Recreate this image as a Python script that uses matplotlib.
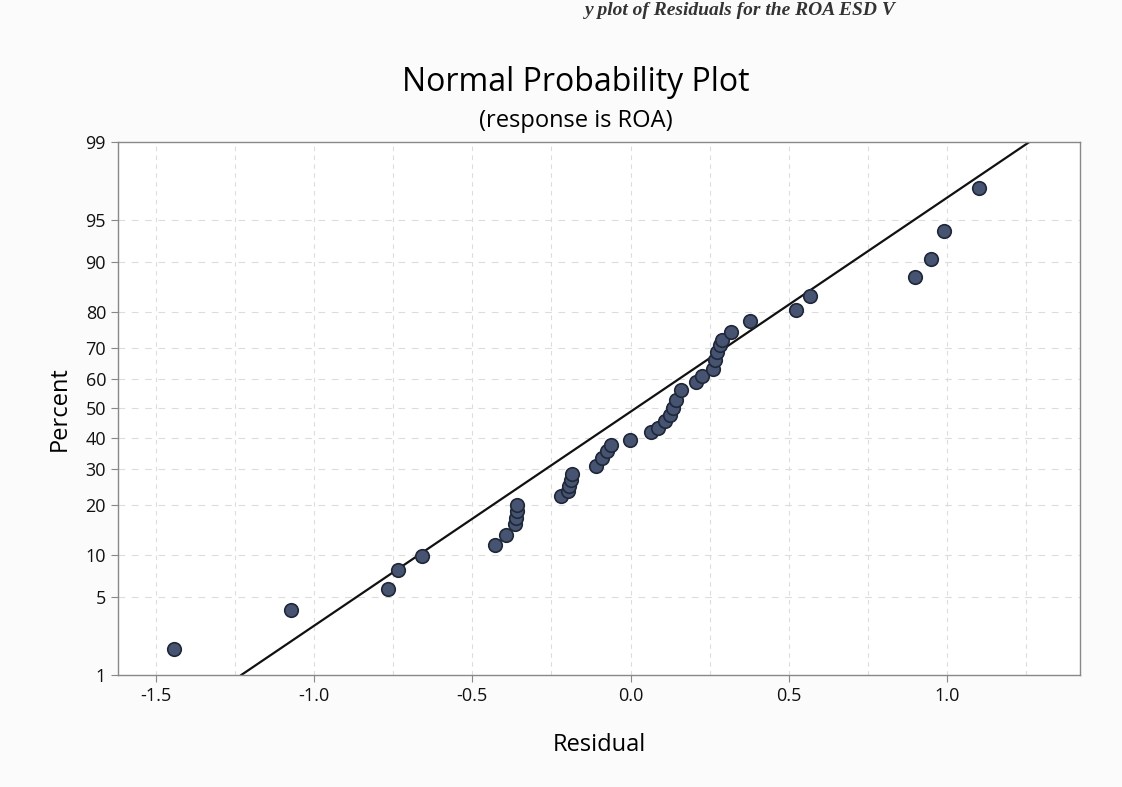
import numpy as np
import matplotlib.pyplot as plt
from statistics import NormalDist

# Residuals (sorted) and their plotted percent
residuals = [-1.443, -1.072, -0.767, -0.736, -0.660, -0.428, -0.393,
             -0.365, -0.362, -0.358, -0.358, -0.220, -0.198, -0.195,
             -0.189, -0.186, -0.110, -0.091, -0.075, -0.063, -0.003,
             0.066, 0.088, 0.110, 0.126, 0.135, 0.145, 0.160, 0.208,
             0.226, 0.261, 0.267, 0.274, 0.283, 0.289, 0.318, 0.377,
             0.522, 0.566, 0.899, 0.950, 0.991, 1.101]
percent = [1.8, 3.9, 5.8, 7.9, 9.9, 11.6, 13.5,
           15.6, 17.0, 18.5, 20.0, 22.3, 23.6, 25.0,
           26.7, 28.4, 30.9, 33.4, 35.6, 37.6, 39.3,
           42.0, 43.4, 45.8, 47.9, 50.3, 53.1, 56.3, 59.0,
           61.1, 63.4, 66.3, 68.8, 71.0, 72.4, 74.8, 77.7,
           80.5, 83.7, 87.5, 90.4, 93.9, 97.3]

# fitted line end points
line_x = [-1.23, 1.26]
line_pct = [1, 99]

y_ticks = [1, 5, 10, 20, 30, 40, 50, 60, 70, 80, 90, 95, 99]
x_ticks = [-1.5, -1.0, -0.5, 0.0, 0.5, 1.0]

nd = NormalDist()
_inv = np.vectorize(lambda v: nd.inv_cdf(v / 100.0), otypes=[float])
_cdf = np.vectorize(lambda v: nd.cdf(v) * 100.0, otypes=[float])


def to_z(p):
    p = np.clip(np.asarray(p, dtype=float), 1e-4, 100 - 1e-4)
    return _inv(p)


def from_z(z):
    return _cdf(np.asarray(z, dtype=float))


plt.rcParams['font.family'] = ['Open Sans', 'DejaVu Sans']

fig = plt.figure(figsize=(11.22, 7.87), dpi=100, facecolor='#fbfbfb')
ax = fig.add_axes([0.105, 0.1423, 0.8576, 0.6773])
ax.set_facecolor('white')

ax.set_yscale('function', functions=(to_z, from_z))
ax.set_ylim(1, 99)
ax.set_xlim(-1.62, 1.42)

# grid
for gx in np.arange(-1.5, 1.5, 0.25):
    ax.axvline(gx, color='#dcdcdc', lw=0.8, ls=(0, (4, 4)), zorder=0)
for gy in y_ticks[1:-1]:
    ax.axhline(gy, color='#dcdcdc', lw=0.8, ls=(0, (6, 6)), zorder=0)

ax.plot(line_x, line_pct, color='#111111', lw=1.6, zorder=2)
ax.scatter(residuals, percent, s=95, color='#465371', edgecolor='#1f2838',
           linewidth=1.2, zorder=3)

ax.set_yticks(y_ticks)
ax.set_yticklabels([str(t) for t in y_ticks])
ax.set_xticks(x_ticks)
ax.set_xticklabels(['-1.5', '-1.0', '-0.5', '0.0', '0.5', '1.0'])
ax.minorticks_off()
ax.tick_params(axis='both', labelsize=13, direction='out', length=5,
               color='#888888', labelcolor='#111111')

for s in ax.spines.values():
    s.set_color('#888888')
    s.set_linewidth(1.0)

ax.set_xlabel('Residual', fontsize=17, labelpad=20)
ax.set_ylabel('Percent', fontsize=17, labelpad=10)

fig.text(0.513, 0.895, 'Normal Probability Plot', ha='center', va='center',
         fontsize=23)
fig.text(0.513, 0.846, '(response is ROA)', ha='center', va='center',
         fontsize=17)

# caption at the very top of the scanned page
fig.text(0.66, 0.998, 'y plot of Residuals for the ROA ESD V', ha='center',
         va='top', fontsize=14, fontweight='bold', fontstyle='italic',
         family=['Liberation Serif', 'DejaVu Serif'], color='#333333')

fig.savefig('out.png', dpi=100, facecolor=fig.get_facecolor())
